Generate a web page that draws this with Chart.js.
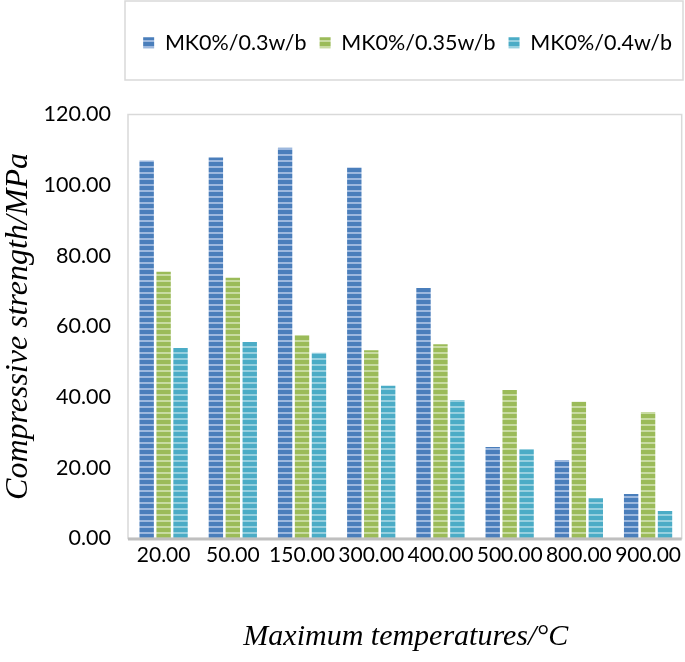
<!DOCTYPE html>
<html><head><meta charset="utf-8">
<script src="https://cdn.jsdelivr.net/npm/chart.js@4/dist/chart.umd.min.js"></script>
<style>html,body{margin:0;padding:0;background:#fff}</style>
</head><body>
<canvas id="c" width="685" height="662"></canvas>
<script>
const categories = ['20.00','50.00','150.00','300.00','400.00','500.00','800.00','900.00'];
const seriesNames = ['MK0%/0.3w/b','MK0%/0.35w/b','MK0%/0.4w/b'];
const w030 = [107.0,107.8,110.6,105.0,70.9,25.9,22.2,12.6];
const w035 = [75.5,73.8,57.6,53.3,55.0,42.0,38.7,35.8];
const w040 = [53.9,55.6,52.6,43.2,39.2,25.3,11.4,7.8];
const yMin = 0, yMax = 120, yStep = 20;

function stripe(dark, light) {
  const c = document.createElement('canvas');
  c.width = 4; c.height = 6;
  const x = c.getContext('2d');
  x.fillStyle = dark; x.fillRect(0, 0, 4, 4);
  x.fillStyle = light; x.fillRect(0, 4, 4, 2);
  return x.createPattern(c, 'repeat');
}
const ctx = document.getElementById('c').getContext('2d');
const fills = [stripe('#4a7ebb', '#9db8de'), stripe('#9bbb59', '#c8dba2'), stripe('#4bacc6', '#97d0df')];
const values = [w030, w035, w040];

const boxPlugin = {
  id: 'boxes',
  beforeInit(chart) {
    const lg = chart.legend;
    const fit = lg.fit;
    lg.fit = function () { fit.call(this); this.height += 51; };
  },
  afterDraw(chart) {
    const c = chart.ctx, a = chart.chartArea;
    c.save();
    c.strokeStyle = '#d9d9d9';
    c.lineWidth = 1.5;
    c.strokeRect(a.left - 1, a.top, a.right - a.left, a.bottom - a.top);
    c.fillStyle = '#bfbfbf';
    c.fillRect(a.left - 1, a.bottom - 1, a.right - a.left, 3);
    c.strokeRect(125, 1, 558, 79);
    c.restore();
  }
};

new Chart(ctx, {
  type: 'bar',
  data: {
    labels: categories,
    datasets: seriesNames.map((n, i) => ({
      label: n, data: values[i], backgroundColor: fills[i], borderWidth: 0,
      categoryPercentage: 0.734, barPercentage: 0.85
    }))
  },
  options: {
    responsive: false, animation: false,
    layout: { padding: { top: 19, left: 0, right: 0, bottom: 0 } },
    plugins: {
      tooltip: { enabled: false },
      legend: {
        position: 'top', align: 'end',
        labels: { boxWidth: 11, boxHeight: 11, padding: 13, color: '#000',
          font: { family: 'Lato', size: 21.5 } }
      }
    },
    scales: {
      x: {
        grid: { display: false, drawTicks: false },
        border: { display: false },
        ticks: { color: '#000', font: { family: 'Lato', size: 21 }, padding: 4,
          autoSkip: false, maxRotation: 0, minRotation: 0 },
        title: { display: true, text: 'Maximum temperatures/°C', color: '#000',
          font: { family: 'Liberation Serif', style: 'italic', size: 30, lineHeight: 1.2 },
          padding: { top: 7, bottom: 7 } },
        afterFit(s) { s.height = 123.5; }
      },
      y: {
        min: yMin, max: yMax,
        grid: { display: false, drawTicks: false },
        border: { display: false },
        ticks: { stepSize: yStep, color: '#000', font: { family: 'Lato', size: 21.5 }, padding: 18,
          callback: v => Number(v).toFixed(2) },
        title: { display: true, text: 'Compressive strength/MPa', color: '#000',
          font: { family: 'Liberation Serif', style: 'italic', size: 32, lineHeight: 1.0 },
          padding: { top: 3, bottom: 0 } },
        afterFit(s) { s.width = 129; }
      }
    }
  },
  plugins: [boxPlugin]
});
</script>
</body></html>
